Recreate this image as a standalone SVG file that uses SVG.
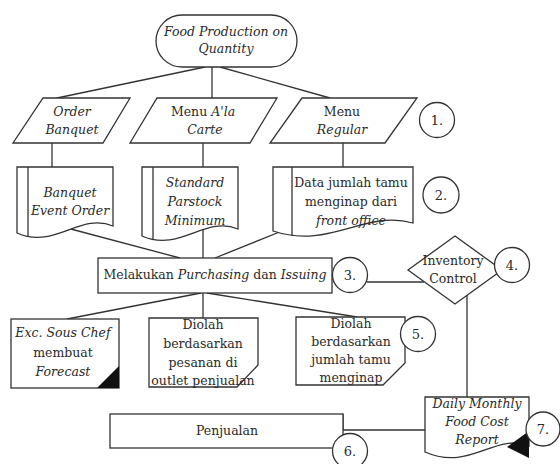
<svg xmlns="http://www.w3.org/2000/svg" width="560" height="464" viewBox="0 0 560 464">
<style>
.s{fill:#fff;stroke:#333;stroke-width:1.3}
.c{fill:none;stroke:#333;stroke-width:1.3}
.n{fill:#fff;stroke:#333;stroke-width:1.3}
text{font-family:'DejaVu Serif',serif;font-size:12.5px;fill:#2a2a2a;text-anchor:middle}
.i{font-style:italic}
.num{font-size:13px}
</style>
<rect width="560" height="464" fill="#fff"/>
<g id="connectors">
<line class="c" x1="205" y1="67" x2="57" y2="98"/>
<line class="c" x1="212" y1="67" x2="212" y2="98"/>
<line class="c" x1="220" y1="67" x2="330" y2="98"/>
<line class="c" x1="52" y1="143" x2="52" y2="167"/>
<line class="c" x1="203" y1="143" x2="203" y2="167"/>
<line class="c" x1="343" y1="143" x2="343" y2="167"/>
<line class="c" x1="67" y1="228" x2="180" y2="258"/>
<line class="c" x1="203" y1="224" x2="203" y2="258"/>
<line class="c" x1="282" y1="231" x2="215" y2="258"/>
<line class="c" x1="201" y1="293" x2="67" y2="319"/>
<line class="c" x1="203" y1="293" x2="203" y2="318"/>
<line class="c" x1="207" y1="293" x2="357" y2="317"/>
<line class="c" x1="367" y1="282" x2="424" y2="282"/>
<line class="c" x1="467" y1="295" x2="467" y2="397"/>
<polyline class="c" points="343,414 343,430 425,430"/>
</g>
<g id="start">
<rect class="s" x="156" y="15" width="141" height="52" rx="26" ry="26"/>
<text class="i" x="226" y="36">Food Production on</text>
<text class="i" x="226" y="53">Quantity</text>
</g>
<g id="order-banquet">
<polygon class="s" points="43,98 130,98 103,143 13,143"/>
<text class="i" x="72" y="116">Order</text>
<text class="i" x="72" y="134">Banquet</text>
</g>
<g id="menu-alacarte">
<polygon class="s" points="157,98 277,98 250,143 130,143"/>
<text x="203" y="116">Menu <tspan class="i">A'la</tspan></text>
<text class="i" x="205" y="134">Carte</text>
</g>
<g id="menu-regular">
<polygon class="s" points="302,98 417,98 385,143 270,143"/>
<text x="342" y="116">Menu</text>
<text class="i" x="342" y="134">Regular</text>
</g>
<g id="n1"><circle class="n" cx="437" cy="120" r="17.5"/><text class="num" x="437" y="125">1.</text></g>
<g id="beo">
<path class="s" d="M17,167 H113 V226 C80,212 55,250 17,233 Z"/>
<line class="c" x1="28" y1="167" x2="28" y2="237"/>
<text class="i" x="70" y="197">Banquet</text>
<text class="i" x="70" y="215">Event Order</text>
</g>
<g id="parstock">
<path class="s" d="M142,167 H238 V229 C205,215 180,253 142,236 Z"/>
<line class="c" x1="153" y1="167" x2="153" y2="240"/>
<text class="i" x="195" y="187">Standard</text>
<text class="i" x="195" y="206">Parstock</text>
<text class="i" x="195" y="225">Minimum</text>
</g>
<g id="data-tamu">
<path class="s" d="M273,167 H413 V223 C365,209 330,250 273,231 Z"/>
<line class="c" x1="292" y1="167" x2="292" y2="236"/>
<text x="351" y="187">Data jumlah tamu</text>
<text x="351" y="206">menginap dari</text>
<text class="i" x="351" y="225">front office</text>
</g>
<g id="n2"><circle class="n" cx="441" cy="195" r="18"/><text class="num" x="441" y="200">2.</text></g>
<g id="purchasing">
<rect class="s" x="98" y="258" width="234" height="35"/>
<text x="215" y="279">Melakukan <tspan class="i">Purchasing</tspan> dan <tspan class="i">Issuing</tspan></text>
</g>
<g id="n3"><circle class="n" cx="350" cy="275" r="17.5"/><text class="num" x="350" y="280">3.</text></g>
<g id="inventory">
<polygon class="s" points="455,236 502,270 455,304 408,270"/>
<text x="453" y="265">Inventory</text>
<text x="453" y="283">Control</text>
</g>
<g id="n4"><circle class="n" cx="512" cy="265" r="17.5"/><text class="num" x="512" y="270">4.</text></g>
<g id="forecast">
<rect class="s" x="11" y="319" width="108" height="69"/>
<polygon points="97,388 119,388 119,366" fill="#111"/>
<text class="i" x="63" y="337">Exc. Sous Chef</text>
<text x="63" y="357">membuat</text>
<text class="i" x="63" y="376">Forecast</text>
</g>
<g id="diolah-pesanan">
<polygon class="s" points="149,318 258,318 258,365 237,387 149,387"/>
<text x="203" y="329">Diolah</text>
<text x="203" y="348">berdasarkan</text>
<text x="203" y="367">pesanan di</text>
<text x="203" y="385">outlet penjualan</text>
</g>
<g id="diolah-tamu">
<polygon class="s" points="296,317 405,317 405,363 383,385 296,385"/>
<text x="351" y="328">Diolah</text>
<text x="351" y="346">berdasarkan</text>
<text x="351" y="364">jumlah tamu</text>
<text x="351" y="382">menginap</text>
</g>
<g id="n5"><circle class="n" cx="418" cy="334" r="17.5"/><text class="num" x="418" y="339">5.</text></g>
<g id="penjualan">
<rect class="s" x="110" y="414" width="233" height="34"/>
<text x="227" y="435">Penjualan</text>
</g>
<g id="n6"><circle class="n" cx="350" cy="451" r="17.5"/><text class="num" x="350" y="456">6.</text></g>
<g id="report">
<path class="s" d="M425,397 H529 V446 C495,432 470,472 425,452 Z"/>
<polygon points="507,447 529,431 529,458" fill="#111"/>
<text class="i" x="477" y="408">Daily Monthly</text>
<text class="i" x="477" y="426">Food Cost</text>
<text class="i" x="477" y="444">Report</text>
</g>
<g id="n7"><circle class="n" cx="543" cy="429" r="17"/><text class="num" x="543" y="434">7.</text></g>
</svg>
